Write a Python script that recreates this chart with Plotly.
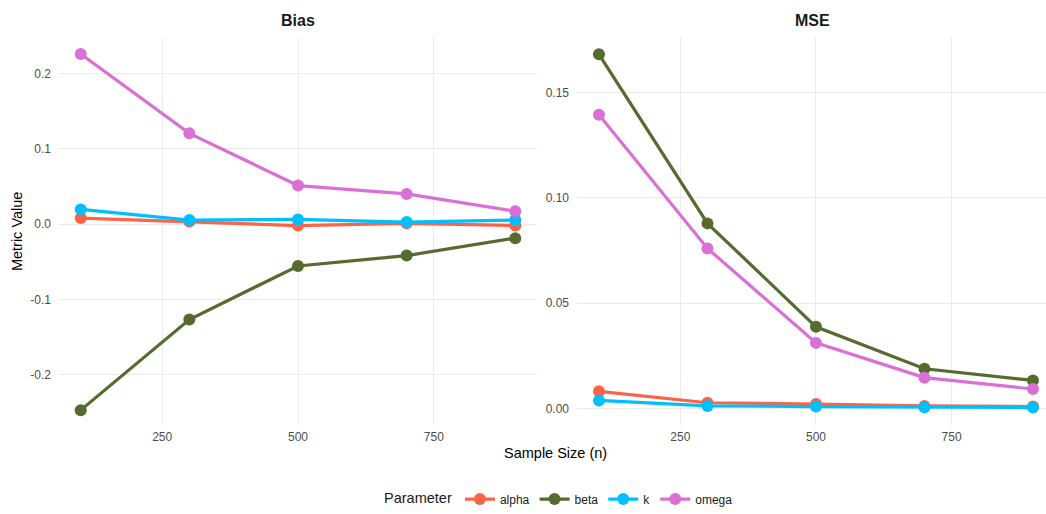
import plotly.graph_objects as go

sample_sizes = [100, 300, 500, 700, 900]
parameters = ["alpha", "beta", "k", "omega"]
colors = {"alpha": "#FF6347", "beta": "#556B2F", "k": "#00BFFF", "omega": "#DA70D6"}

bias_alpha = [0.008, 0.0035, -0.002, 0.001, -0.002]
bias_beta = [-0.247, -0.1267, -0.0556, -0.0418, -0.0187]
bias_k = [0.0195, 0.0053, 0.0062, 0.0027, 0.0053]
bias_omega = [0.2258, 0.1204, 0.0511, 0.040, 0.0169]

mse_alpha = [0.0082, 0.0028, 0.0022, 0.0013, 0.0010]
mse_beta = [0.1681, 0.0879, 0.0388, 0.0189, 0.0134]
mse_k = [0.0039, 0.0013, 0.0010, 0.0006, 0.0005]
mse_omega = [0.1394, 0.0760, 0.0312, 0.0147, 0.0093]

bias = {"alpha": bias_alpha, "beta": bias_beta, "k": bias_k, "omega": bias_omega}
mse = {"alpha": mse_alpha, "beta": mse_beta, "k": mse_k, "omega": mse_omega}

x_ticks = [250, 500, 750]
bias_ticks = [-0.2, -0.1, 0.0, 0.1, 0.2]
bias_tick_labels = ["-0.2", "-0.1", "0.0", "0.1", "0.2"]
mse_ticks = [0.0, 0.05, 0.10, 0.15]
mse_tick_labels = ["0.00", "0.05", "0.10", "0.15"]

FONT = "Liberation Sans, Arial, sans-serif"
W, H = 1046, 514

fig = go.Figure()
for p in parameters:
    fig.add_trace(go.Scatter(
        x=sample_sizes, y=bias[p], mode="lines+markers", name=p,
        line=dict(color=colors[p], width=3.2),
        marker=dict(color=colors[p], size=12),
        xaxis="x", yaxis="y", legendgroup=p, showlegend=True))
for p in parameters:
    fig.add_trace(go.Scatter(
        x=sample_sizes, y=mse[p], mode="lines+markers", name=p,
        line=dict(color=colors[p], width=3.2),
        marker=dict(color=colors[p], size=12),
        xaxis="x2", yaxis="y2", legendgroup=p, showlegend=False))

def px_x(v):
    return v / W

def px_y(v):
    return 1 - v / H

ydom = [px_y(428), px_y(37)]
axis_common = dict(showgrid=True, gridcolor="#EBEBEB", gridwidth=1.2, zeroline=False,
                   showline=False, ticks="", tickfont=dict(family=FONT, size=12, color="#4D4D4D"))

fig.update_layout(
    width=W, height=H,
    margin=dict(l=0, r=0, t=0, b=0),
    plot_bgcolor="white", paper_bgcolor="white",
    font=dict(family=FONT),
    xaxis=dict(domain=[px_x(59), px_x(537)], range=[60, 940], tickvals=x_ticks,
               anchor="y", ticklabelstandoff=2, **axis_common),
    yaxis=dict(domain=ydom, range=[-0.2685, 0.2485], tickvals=bias_ticks,
               ticktext=bias_tick_labels, anchor="x", ticklabelstandoff=7, **axis_common),
    xaxis2=dict(domain=[px_x(577), 1.0], range=[59.5, 924], tickvals=x_ticks,
                anchor="y2", ticklabelstandoff=2, **axis_common),
    yaxis2=dict(domain=ydom, range=[-0.0084, 0.1764], tickvals=mse_ticks,
                ticktext=mse_tick_labels, anchor="x2", ticklabelstandoff=7, **axis_common),
    legend=dict(orientation="h", x=0.5354, xanchor="center", y=px_y(501), yanchor="middle",
                font=dict(family=FONT, size=12, color="#1A1A1A"),
                title=dict(text="Parameter", font=dict(family=FONT, size=14.5, color="#1A1A1A"),
                           side="left"),
                itemwidth=30, tracegroupgap=0),
    showlegend=True,
    annotations=[
        dict(text="<b>Bias</b>", x=px_x(298), y=px_y(21), xref="paper", yref="paper",
             showarrow=False, font=dict(family=FONT, size=16, color="#1A1A1A"),
             xanchor="center", yanchor="middle"),
        dict(text="<b>MSE</b>", x=px_x(812), y=px_y(21), xref="paper", yref="paper",
             showarrow=False, font=dict(family=FONT, size=16, color="#1A1A1A"),
             xanchor="center", yanchor="middle"),
        dict(text="Sample Size (n)", x=px_x(555), y=px_y(455), xref="paper", yref="paper",
             showarrow=False, font=dict(family=FONT, size=14.5, color="black"),
             xanchor="center", yanchor="middle"),
        dict(text="Metric Value", x=px_x(17), y=px_y(232), xref="paper", yref="paper",
             showarrow=False, textangle=-90, font=dict(family=FONT, size=14.5, color="black"),
             xanchor="center", yanchor="middle"),
    ],
)

fig.write_html("out.html")
